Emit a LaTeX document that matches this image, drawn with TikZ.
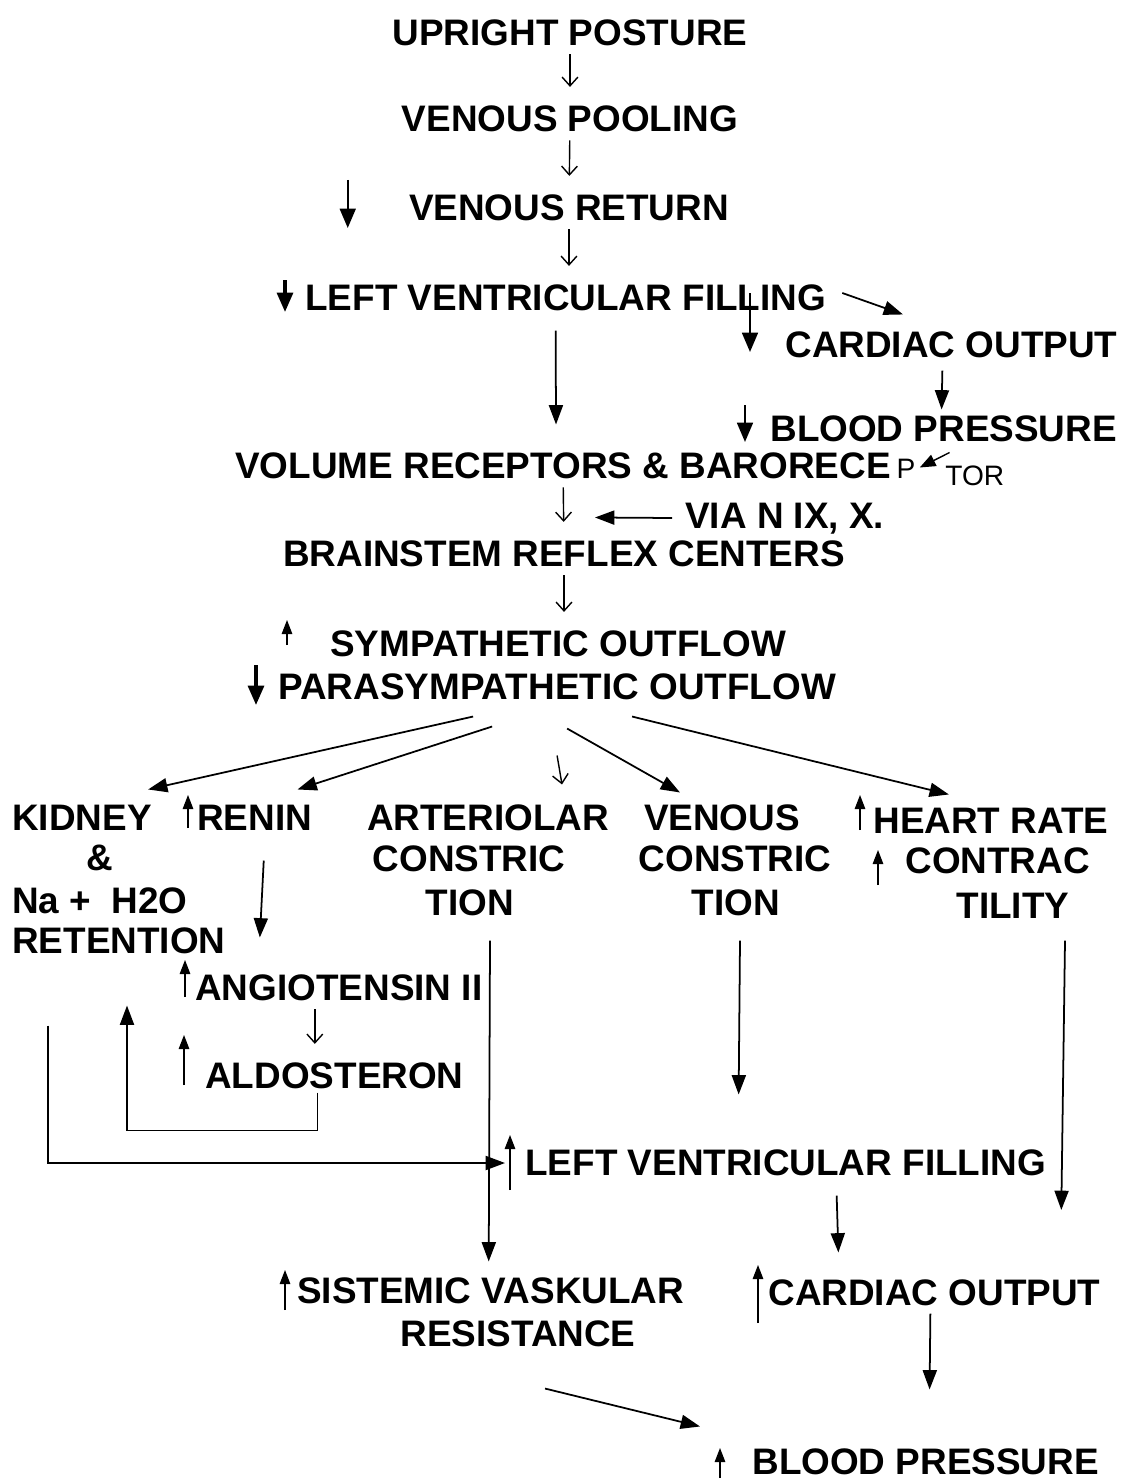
\documentclass[tikz,border=0pt]{standalone}
\usepackage{fontspec}
\setmainfont{Liberation Sans}
\usetikzlibrary{arrows.meta}

\begin{document}
\begin{tikzpicture}[x=0.02cm, y=-0.02cm,
	txt/.style={font=\fontsize{21}{25}\selectfont\bfseries, inner sep=0pt, text height=15pt, text depth=0pt},
	hand/.style={font=\fontsize{16}{18}\selectfont, inner sep=0pt},
	small/.style={line width=0.8pt, -{Straight Barb[length=5pt,width=9pt]}},
	flow/.style={small, shorten <=5pt, shorten >=10pt},
	link/.style={line width=1pt, -{Triangle[length=11pt,width=8pt]}},
	ind/.style={line width=1.3pt, -{Triangle[length=11pt,width=9pt]}},
	indthin/.style={line width=0.7pt, -{Triangle[length=8pt,width=6pt]}}]
		\useasboundingbox (0,0) rectangle (1123,1480);
		
		\node[txt] (upright) at (570,32) {UPRIGHT POSTURE};
		\node[txt] (pooling) at (570,118) {VENOUS POOLING};
		\node[txt] (vreturn) at (569,207) {VENOUS RETURN};
		\node[txt, anchor=west] (lvf) at (305,297) {LEFT VENTRICULAR FILLING};
		\node[txt, anchor=west] (co) at (785,344) {CARDIAC OUTPUT};
		\node[txt, anchor=west] (bp) at (770,428) {BLOOD PRESSURE};
		\node[txt, anchor=west] (vol) at (235,465) {VOLUME RECEPTORS \& BARORECE};
		\node[hand, anchor=south west] (handp) at ([xshift=3pt]vol.south east) {P};
		\node[hand, anchor=south west] (tor) at (945,486) {TOR};
		\node[txt, anchor=west] (vian) at (685,515) {VIA N IX, X.};
		\node[txt] (brain) at (564,553) {BRAINSTEM REFLEX CENTERS};
		\node[txt, anchor=west] (symp) at (330,643) {SYMPATHETIC OUTFLOW};
		\node[txt, anchor=west] (para) at (278,686) {PARASYMPATHETIC OUTFLOW};
		
		\node[txt, anchor=west] (kidney) at (12,817) {KIDNEY};
		\node[txt] (amp) at (100,857) {\&};
		\node[txt, anchor=west] (na) at (12,900) {Na + \ H2O};
		\node[txt, anchor=west] (ret) at (12,940) {RETENTION};
		\node[txt, anchor=west] (renin) at (197,817) {RENIN};
		\node[txt, anchor=west] (angio) at (195,987) {ANGIOTENSIN II};
		\node[txt, anchor=west] (aldo) at (205,1075) {ALDOSTERON};
		\node[txt] (art) at (488,817) {ARTERIOLAR};
		\node[txt] (cons1) at (469,858) {CONSTRIC};
		\node[txt] (tion1) at (470,902) {TION};
		\node[txt] (ven) at (722,817) {VENOUS};
		\node[txt] (cons2) at (735,858) {CONSTRIC};
		\node[txt] (tion2) at (736,902) {TION};
		\node[txt, anchor=west] (hr) at (873,820) {HEART RATE};
		\node[txt, anchor=west] (contrac) at (905,860) {CONTRAC};
		\node[txt] (tility) at (1013,905) {TILITY};
		
		\node[txt, anchor=west] (lvf2) at (525,1162) {LEFT VENTRICULAR FILLING};
		\node[txt, anchor=west] (svr) at (297,1290) {SISTEMIC VASKULAR};
		\node[txt] (resist) at (518,1333) {RESISTANCE};
		\node[txt, anchor=west] (co2) at (768,1292) {CARDIAC OUTPUT};
		\node[txt, anchor=west] (bp2) at (752,1461) {BLOOD PRESSURE};
		
		\draw[flow] (upright) -- (pooling);
		\draw[flow] (pooling) -- (vreturn);
		\draw[flow] (vreturn) -- (vreturn |- lvf.north);
		\draw[flow] (vol) -- (brain);
		\draw[flow] (brain) -- (brain |- symp.north);
		\draw[flow] ([shift={(-24,0)}]angio.south) -- ([shift={(-24,0)}]angio.south |- aldo.north);
		\draw[small] ([shift={(0,56)}]para.south) -- ([shift={(74,-19)}]art.north);
		
		\draw[link] ([shift={(16,-4)}]lvf.east) -- ([shift={(118,-16)}]co.north west);
		\draw[link] ([shift={(-10,20)}]lvf.south) -- ([shift={(-7,-27)}]vol.north);
		\draw[link] ([shift={(-9,13)}]co.south) -- ([shift={(-2,-5)}]bp.north);
		\draw[line width=0.8pt, -{Triangle[length=9pt,width=7pt]}] ([shift={(6,11)}]bp.south) -- ([shift={(4,-1)}]handp.east);
		\draw[link] ([shift={(-13,3)}]vian.west) -- ([shift={(31,-22)}]brain.north);
		
		\draw[link] ([shift={(-84,17)}]para.south) -- ([shift={(-4,-14)}]kidney.north east);
		\draw[link] ([shift={(-65,27)}]para.south) -- ([shift={(-15,-14)}]renin.north east);
		\draw[link] ([shift={(10,29)}]para.south) -- ([shift={(-42,-11)}]ven.north);
		\draw[link] ([shift={(75,17)}]para.south) -- ([shift={(-42,-12)}]hr.north);
		
		\draw[link] ([shift={(9,30)}]renin.south) -- ([shift={(-79,-36)}]angio.north);
		\draw[link] ([shift={(-17,4)}]aldo.south) -- ++(0,38) -| ([shift={(-68,5)}]angio.south west);
		\draw[link] ([shift={(36,72)}]ret.south west) |- ([shift={(-20,1)}]lvf2.west);
		\draw[link] ([shift={(20,25)}]tion1.south) -- ([shift={(-2,-15)}]svr.north);
		\draw[link] ([shift={(4,25)}]tion2.south) -- ([shift={(-47,-54)}]lvf2.north);
		\draw[link] ([shift={(52,22)}]tility.south) -- ([shift={(15,48)}]lvf2.east);
		\draw[link] ([shift={(51,20)}]lvf2.south) -- ([shift={(-96,-26)}]co2.north);
		\draw[link] ([shift={(-4,8)}]co2.south) -- ([shift={(4,-58)}]bp2.north);
		\draw[link] ([shift={(27,42)}]resist.south) -- ([shift={(-52,-21)}]bp2.north west);
		
		\draw[ind] ([shift={(-61,-27)}]vreturn.west) -- ++(0,48);
		\draw[ind, line width=2pt] ([shift={(-20,-17)}]lvf.west) -- ++(0,32);
		\draw[ind] ([shift={(-35,-51)}]co.west) -- ++(0,59);
		\draw[ind] ([shift={(-25,-23)}]bp.west) -- ++(0,37);
		\draw[indthin] ([shift={(-43,2)}]symp.west) -- ++(0,-25);
		\draw[ind, line width=2pt] ([shift={(-22,-21)}]para.west) -- ++(0,40);
		\draw[indthin] ([shift={(-9,11)}]renin.west) -- ++(0,-33);
		\draw[indthin] ([shift={(-10,10)}]angio.west) -- ++(0,-37);
		\draw[indthin] ([shift={(-21,10)}]aldo.west) -- ++(0,-50);
		\draw[indthin] ([shift={(-13,10)}]hr.west) -- ++(0,-35);
		\draw[indthin] ([shift={(-27,25)}]contrac.west) -- ++(0,-35);
		\draw[indthin] ([shift={(-15,28)}]lvf2.west) -- ++(0,-55);
		\draw[indthin] ([shift={(-12,20)}]svr.west) -- ++(0,-40);
		\draw[indthin] ([shift={(-10,31)}]co2.west) -- ++(0,-58);
		\draw[indthin] ([shift={(-32,17)}]bp2.west) -- ++(0,-30);
\end{tikzpicture}
\end{document}
